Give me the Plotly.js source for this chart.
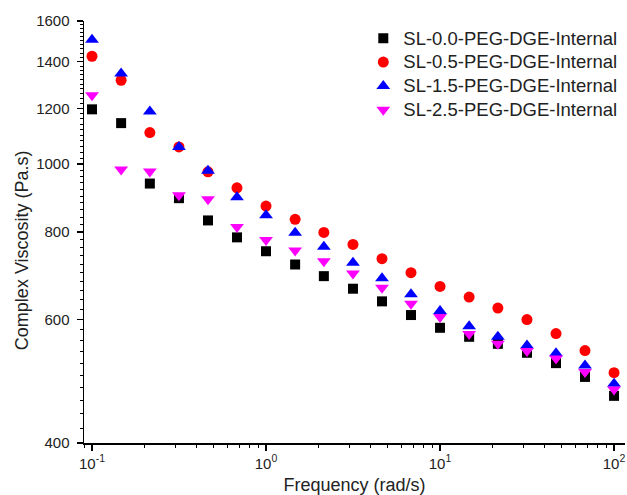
<!DOCTYPE html>
<html>
<head>
<meta charset="utf-8">
<script src="https://cdn.plot.ly/plotly-3.0.1.min.js"></script>
<style>html,body{margin:0;padding:0;background:#fff}#chart{width:627px;height:495px}</style>
</head>
<body>
<div id="chart"></div>
<script>
const frequency = [0.1, 0.147, 0.215, 0.316, 0.464, 0.681, 1, 1.47, 2.15, 3.16, 4.64, 6.81, 10, 14.7, 21.5, 31.6, 46.4, 68.1, 100];
const sl00 = [1197, 1144, 938, 894, 831, 786, 751, 719, 692, 664, 637, 609, 584, 567, 554, 538, 520, 497, 467];
const sl05 = [1425, 1317, 1109, 1058, 975, 925, 871, 834, 799, 768, 733, 700, 669, 646, 623, 600, 573, 542, 504];
const sl15 = [1505, 1346, 1189, 1058, 978, 897, 845, 798, 762, 723, 687, 652, 617, 587, 567, 551, 537, 516, 486];
const sl25 = [1254, 982, 976, 903, 891, 813, 779, 753, 727, 698, 666, 632, 605, 572, 554, 541, 528, 505, 477];
const seriesNames = ['SL-0.0-PEG-DGE-Internal', 'SL-0.5-PEG-DGE-Internal', 'SL-1.5-PEG-DGE-Internal', 'SL-2.5-PEG-DGE-Internal'];
const xTickVals = [0.1, 1, 10, 100];
const xTickText = ['10<sup>-1</sup>', '10<sup>0</sup>', '10<sup>1</sup>', '10<sup>2</sup>'];
const yTickVals = [400, 600, 800, 1000, 1200, 1400, 1600];
const xTitle = 'Frequency (rad/s)';
const yTitle = 'Complex Viscosity (Pa.s)';

const styles = [
  {symbol: 'square', color: '#000000', size: 10},
  {symbol: 'circle', color: '#ff0000', size: 11},
  {symbol: 'triangle-up', color: '#0000ff', size: 12},
  {symbol: 'triangle-down', color: '#ff00ff', size: 12}
];
const ys = [sl00, sl05, sl15, sl25];
const traces = ys.map((y, i) => ({
  x: frequency, y: y, name: '<span style="font-size:18.5px">' + seriesNames[i] + '</span>',
  type: 'scatter', mode: 'markers',
  marker: {symbol: styles[i].symbol, color: styles[i].color, size: styles[i].size, line: {width: 0}}
}));

const fam = 'Liberation Sans, Arial, sans-serif';
const layout = {
  width: 627, height: 495,
  margin: {l: 84, r: 2, t: 21, b: 52},
  paper_bgcolor: '#fff', plot_bgcolor: '#fff',
  font: {family: fam, color: '#222'},
  showlegend: true,
  legend: {x: 0.995, xanchor: 'right', y: 0.999, yanchor: 'top', bgcolor: 'rgba(0,0,0,0)',
    font: {family: fam, size: 16, color: '#222'}, tracegroupgap: 0, itemwidth: 30},
  xaxis: {
    type: 'log', range: [-1.046, 2.063], showgrid: false, zeroline: false,
    showline: true, linecolor: '#000', linewidth: 1.5, mirror: false,
    ticks: 'outside', ticklen: 6, tickwidth: 1.2, tickcolor: '#000',
    tickvals: xTickVals, ticktext: xTickText,
    tickfont: {family: fam, size: 15, color: '#222'},
    minor: {ticks: 'outside', ticklen: 3, tickwidth: 1, tickcolor: '#000', dtick: 'D1', showgrid: false},
    title: {text: xTitle, font: {family: fam, size: 18, color: '#222'}, standoff: 10}
  },
  yaxis: {
    type: 'log', range: [Math.log10(400), Math.log10(1600)], showgrid: false, zeroline: false,
    showline: true, linecolor: '#000', linewidth: 1.5, mirror: false,
    ticks: 'outside', ticklen: 6, tickwidth: 1.2, tickcolor: '#000',
    tickvals: yTickVals, ticktext: yTickVals.map(String),
    tickfont: {family: fam, size: 15, color: '#222'}, ticklabelstandoff: 4,
    minor: {ticks: 'outside', ticklen: 3, tickwidth: 1, tickcolor: '#000', dtick: 'L20', showgrid: false}
  },
  annotations: [{
    text: yTitle, textangle: -90, xref: 'paper', yref: 'paper',
    x: -0.1146, y: 0.457, xanchor: 'center', yanchor: 'middle', showarrow: false,
    font: {family: fam, size: 18, color: '#222'}
  }]
};
Plotly.newPlot('chart', traces, layout, {displayModeBar: false, staticPlot: true});
</script>
</body>
</html>
